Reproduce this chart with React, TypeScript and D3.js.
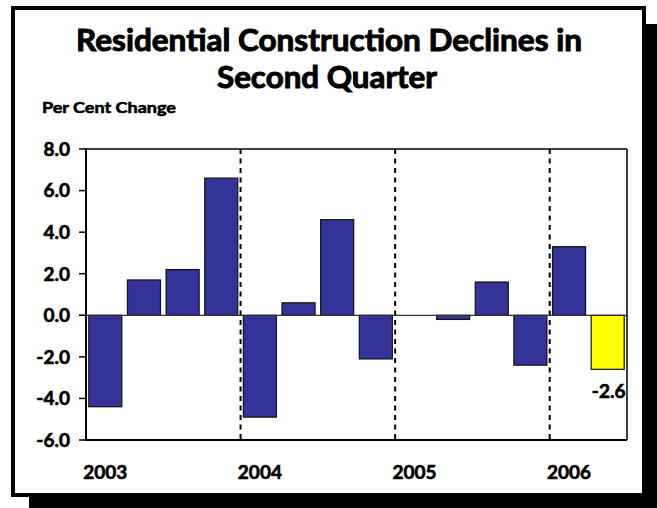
import React from "react";
import * as d3 from "d3";

const W = 657;
const H = 508;

const quarters = [
  "2003Q1", "2003Q2", "2003Q3", "2003Q4",
  "2004Q1", "2004Q2", "2004Q3", "2004Q4",
  "2005Q1", "2005Q2", "2005Q3", "2005Q4",
  "2006Q1", "2006Q2",
];
const values: (number | null)[] = [
  -4.4, 1.7, 2.2, 6.6,
  -4.9, 0.6, 4.6, -2.1,
  null, -0.2, 1.6, -2.4,
  3.3, -2.6,
];
const years = ["2003", "2004", "2005", "2006"];
const yTicks = [8, 6, 4, 2, 0, -2, -4, -6];
const highlight = "2006Q2";

const FONT = "Lato, 'DejaVu Sans', sans-serif";

const margin = { left: 86, right: 627, top: 149, bottom: 440 };

// hyphen minus like the original, not the unicode minus d3 uses
const fmt = (v: number) => d3.format(".1f")(v).replace("\u2212", "-");

export default function App() {
  const x = d3
    .scaleBand<string>()
    .domain(quarters)
    .range([margin.left, margin.right])
    .paddingInner(0.145)
    .paddingOuter(0.0725);
  const y = d3.scaleLinear().domain([-6, 8]).range([margin.bottom, margin.top]);
  const step = x.step();

  // a thin stroke makes the bold text a bit heavier, closer to the original
  const heavy = { stroke: "black", strokeWidth: 0.6 };

  return (
    <svg
      width={W}
      height={H}
      style={{ position: "absolute", left: 0, top: 0 }}
      fontFamily={FONT}
    >
      <rect x={0} y={0} width={W} height={H} fill="white" />
      {/* shadow and frame */}
      <rect x={29} y={24} width={640} height={500} fill="black" />
      <rect x={13} y={8} width={631} height={487} fill="white" stroke="black" strokeWidth={4} />

      <text x={329} y={51} textAnchor="middle" fontSize={30.5} fontWeight={700}
        textLength={506} lengthAdjust="spacingAndGlyphs" {...heavy} strokeWidth={1}>
        Residential Construction Declines in
      </text>
      <text x={327} y={88} textAnchor="middle" fontSize={30.5} fontWeight={700}
        textLength={220} lengthAdjust="spacingAndGlyphs" {...heavy} strokeWidth={1}>
        Second Quarter
      </text>
      <text x={42} y={113} fontSize={16} fontWeight={700}
        textLength={134} lengthAdjust="spacingAndGlyphs" {...heavy}>
        Per Cent Change
      </text>

      {/* plot frame */}
      <line x1={margin.left} x2={margin.right} y1={margin.top} y2={margin.top} stroke="black" strokeWidth={1.5} />
      <line x1={margin.right} x2={margin.right} y1={margin.top} y2={margin.bottom} stroke="black" strokeWidth={1.5} />

      {/* year separators */}
      {years.slice(1).map((yr) => {
        const xx = (x(yr + "Q1") as number) - (step * 0.145) / 2;
        return (
          <line key={yr} x1={xx} x2={xx} y1={margin.top} y2={margin.bottom}
            stroke="black" strokeWidth={2} strokeDasharray="5,4.5" />
        );
      })}

      {/* bars */}
      {quarters.map((q, i) => {
        const v = values[i];
        if (v === null) return null;
        const y0 = y(0);
        const y1 = y(v);
        return (
          <rect key={q} x={x(q)} width={x.bandwidth()}
            y={Math.min(y0, y1)} height={Math.abs(y1 - y0)}
            fill={q === highlight ? "#ffff00" : "#333399"}
            stroke="#111" strokeWidth={1.2} />
        );
      })}

      {/* zero line */}
      <line x1={79} x2={margin.right} y1={y(0)} y2={y(0)} stroke="#333" strokeWidth={1.2} />

      {/* y axis */}
      <line x1={margin.left} x2={margin.left} y1={margin.top - 1} y2={margin.bottom + 1} stroke="black" strokeWidth={2} />
      <line x1={margin.left} x2={margin.right} y1={margin.bottom} y2={margin.bottom} stroke="black" strokeWidth={2} />
      {yTicks.map((t) => (
        <g key={t}>
          <line x1={79} x2={margin.left} y1={y(t)} y2={y(t)} stroke="black" strokeWidth={1.5} />
          <text x={70} y={y(t)} dy="0.36em" textAnchor="end" fontSize={19} fontWeight={700} {...heavy}>
            {fmt(t)}
          </text>
        </g>
      ))}

      {/* year labels */}
      {years.map((yr) => (
        <text key={yr} x={(x(yr + "Q1") as number) + x.bandwidth() / 2} y={479}
          textAnchor="middle" fontSize={19} fontWeight={700} {...heavy}>
          {yr}
        </text>
      ))}

      {/* highlighted value label */}
      {quarters.map((q, i) =>
        q === highlight && values[i] !== null ? (
          <text key={q} x={(x(q) as number) + x.bandwidth() / 2 + 1} y={398}
            textAnchor="middle" fontSize={19} fontWeight={700} {...heavy}>
            {fmt(values[i] as number)}
          </text>
        ) : null
      )}
    </svg>
  );
}
